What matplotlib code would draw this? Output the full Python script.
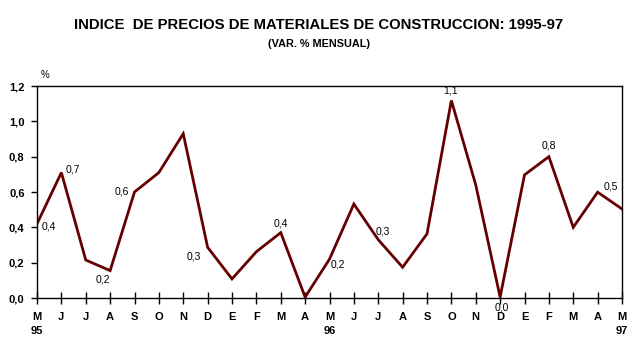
import numpy as np
import matplotlib.pyplot as plt

# Data: monthly % variation, May 1995 - May 1997
months = ["M", "J", "J", "A", "S", "O", "N", "D", "E", "F", "M", "A",
          "M", "J", "J", "A", "S", "O", "N", "D", "E", "F", "M", "A", "M"]
values = [0.42, 0.71, 0.215, 0.155, 0.60, 0.71, 0.93, 0.287, 0.108, 0.262, 0.37, 0.005,
          0.22, 0.532, 0.33, 0.174, 0.363, 1.118, 0.64, 0.005, 0.697, 0.80, 0.40, 0.599, 0.504]
years = {0: "95", 12: "96", 24: "97"}

# point labels: index -> text
point_labels = {0: "0,4", 1: "0,7", 3: "0,2", 4: "0,6", 7: "0,3", 10: "0,4",
                12: "0,2", 14: "0,3", 17: "1,1", 19: "0,0", 21: "0,8", 23: "0,5"}
# label offsets in pixels (dx, dy), y up
label_offsets = {0: (12, -3), 1: (11, 3), 3: (-7, -9), 4: (-13, 1), 7: (-14, -9),
                 10: (0, 9), 12: (8, -5), 14: (5, 8), 17: (-1, 10), 19: (2, -10),
                 21: (0, 11), 23: (13, 6)}

plt.rcParams['font.family'] = ['Liberation Sans', 'DejaVu Sans']

line_color = "#660000"

fig = plt.figure(figsize=(6.37, 3.48), dpi=100)
ax = fig.add_axes([37/637, 1 - 298/348, 585/637, 212/348])

x = np.arange(len(values))
ax.plot(x, values, color=line_color, lw=2.0, solid_joinstyle='miter')

px = 0.72  # pixel -> point
for i, txt in point_labels.items():
    dx, dy = label_offsets[i]
    ax.annotate(txt, (x[i], values[i]), xytext=(dx * px, dy * px),
                textcoords='offset points', ha='center', va='center', fontsize=7.5)

ax.set_xlim(0, 24)
ax.set_ylim(0, 1.2)
ax.set_yticks(np.arange(0, 1.21, 0.2))
ax.set_yticklabels([f"{v:.1f}".replace(".", ",") for v in np.arange(0, 1.21, 0.2)],
                   fontsize=8, fontweight='bold')
ax.set_xticks(x)
ax.set_xticklabels(months, fontsize=8, fontweight='bold')
ax.tick_params(axis='x', direction='inout', length=8, width=1, pad=6)
ax.tick_params(axis='y', direction='out', length=4, width=1, pad=5)
for s in ax.spines.values():
    s.set_linewidth(1)

for i, yr in years.items():
    ax.text(x[i], -0.155, yr, transform=ax.get_xaxis_transform(), ha='center', va='center',
            fontsize=8, fontweight='bold')

ax.text(45 / 637, 1 - 75 / 348, "%", transform=fig.transFigure, ha='center', va='center',
        fontsize=7)

fig.text(0.5, 1 - 25 / 348, "INDICE  DE PRECIOS DE MATERIALES DE CONSTRUCCION: 1995-97",
         ha='center', va='center', fontsize=10.75, fontweight='bold')
fig.text(0.5, 1 - 44 / 348, "(VAR. % MENSUAL)", ha='center', va='center',
         fontsize=7.8, fontweight='bold')

fig.savefig("out.png", dpi=100)
